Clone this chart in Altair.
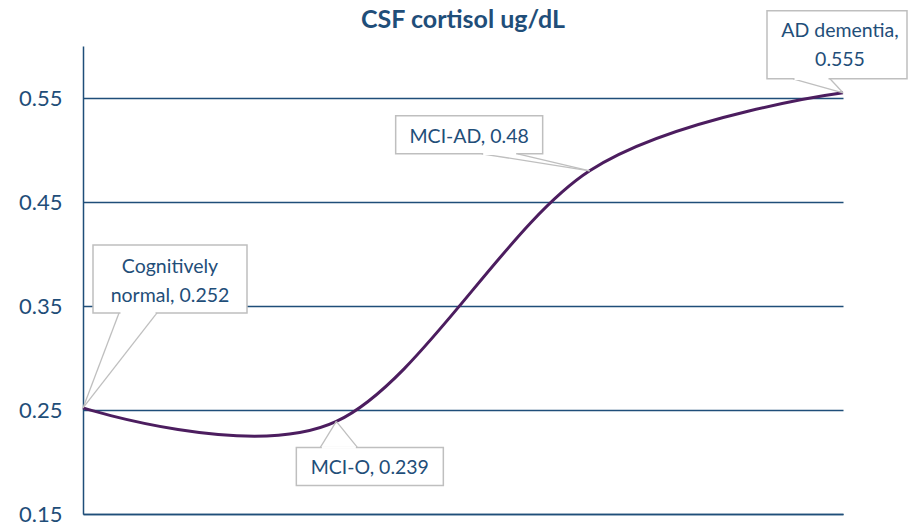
import altair as alt
import pandas as pd

# ---------------- data ----------------
categories = ["Cognitively normal", "MCI-O", "MCI-AD", "AD dementia"]
values = [0.252, 0.239, 0.48, 0.555]
label_lines = [["Cognitively", "normal, 0.252"], ["MCI-O, 0.239"],
               ["MCI-AD, 0.48"], ["AD dementia,", "0.555"]]
y_ticks = [0.15, 0.25, 0.35, 0.45, 0.55]
title_text = "CSF cortisol ug/dL"

# ---------------- layout / style ----------------
W, H = 760, 468
Y_MIN, Y_MAX = 0.15, 0.6
X_MAX = len(categories) - 1
BLUE = "#1F4E79"
PURPLE = "#4C1D5F"
GRAY = "#BFBFBF"
FONT = "Lato"
LINE_H = 29
# callout geometry as pixel offsets from the data point
callouts = [
    dict(box=(10, 164, -163, -95), base=(36, 74, -95), text=(87, -135)),
    dict(box=(-40, 107, 26, 64), base=(-16, 21, 26), text=(33.5, 53)),
    dict(box=(-194, -47, -55, -17), base=(-108, -72, -17), text=(-120.5, -28)),
    dict(box=(-76, 64, -82, -14), base=(-50, -13, -14), text=(-3, -56)),
]


def dx(px):
    return px * X_MAX / W


def dy(px):
    return -px * (Y_MAX - Y_MIN) / H


line_df = pd.DataFrame({"idx": list(range(len(categories))),
                        "cat": categories, "val": values})

box_rows, wedge_rows, base_rows, text_rows = [], [], [], []
for i, c in enumerate(callouts):
    x0, v0 = i, values[i]
    l, r, t, b = c["box"]
    box_rows.append(dict(x=x0 + dx(l), x2=x0 + dx(r), y=v0 + dy(t), y2=v0 + dy(b)))
    bx1, bx2, by = c["base"]
    for bx in (bx1, bx2):
        wedge_rows.append(dict(x=x0 + dx(bx), y=v0 + dy(by), x2=x0, y2=v0))
    base_rows.append(dict(x=x0 + dx(bx1 + 1.5), x2=x0 + dx(bx2 - 1.5),
                          y=v0 + dy(by), y2=v0 + dy(by)))
    tx, ty = c["text"]
    for k, s in enumerate(label_lines[i]):
        text_rows.append(dict(x=x0 + dx(tx), y=v0 + dy(ty + k * LINE_H), label=s))

box_df = pd.DataFrame(box_rows)
wedge_df = pd.DataFrame(wedge_rows)
base_df = pd.DataFrame(base_rows)
text_df = pd.DataFrame(text_rows)

xscale = alt.Scale(domain=[0, X_MAX], nice=False, zero=False)
yscale = alt.Scale(domain=[Y_MIN, Y_MAX], nice=False, zero=False)

line = alt.Chart(line_df).mark_line(
    interpolate="cardinal", color=PURPLE, strokeWidth=3
).encode(
    x=alt.X("idx:Q", scale=xscale,
            axis=alt.Axis(labels=False, ticks=False, grid=False, title=None,
                          domainColor=BLUE, domainWidth=1.5)),
    y=alt.Y("val:Q", scale=yscale,
            axis=alt.Axis(values=y_ticks, format=".2f", title=None, ticks=False,
                          grid=True, gridColor=BLUE, gridWidth=1.5,
                          domainColor=BLUE, domainWidth=1.5,
                          labelFont=FONT, labelFontSize=22, labelColor=BLUE,
                          labelPadding=21)),
)

wedges = alt.Chart(wedge_df).mark_rule(color=GRAY, strokeWidth=1.3).encode(
    x=alt.X("x:Q", scale=xscale), y=alt.Y("y:Q", scale=yscale),
    x2="x2:Q", y2="y2:Q")

boxes = alt.Chart(box_df).mark_rect(fill="white", stroke=GRAY, strokeWidth=1.5).encode(
    x=alt.X("x:Q", scale=xscale), x2="x2:Q",
    y=alt.Y("y:Q", scale=yscale), y2="y2:Q")

bases = alt.Chart(base_df).mark_rule(color="white", strokeWidth=2.5).encode(
    x=alt.X("x:Q", scale=xscale), x2="x2:Q",
    y=alt.Y("y:Q", scale=yscale), y2="y2:Q")

texts = alt.Chart(text_df).mark_text(
    font=FONT, fontSize=19.5, color=BLUE, align="center", baseline="alphabetic"
).encode(x=alt.X("x:Q", scale=xscale), y=alt.Y("y:Q", scale=yscale), text="label:N")

title = alt.Chart(pd.DataFrame({"t": [title_text]})).mark_text(
    font=FONT, fontSize=25, fontWeight="bold", color=BLUE,
    align="center", baseline="alphabetic"
).encode(x=alt.value(W / 2), y=alt.value(-18), text="t:N")

chart = alt.layer(line, wedges, boxes, bases, texts, title).properties(
    width=W, height=H,
    autosize=alt.AutoSizeParams(type="none"),
    padding={"left": 75, "top": 38, "right": 65, "bottom": 10},
).configure_view(strokeWidth=0)

chart.save("out.html", embed_options={"renderer": "svg", "actions": False})
